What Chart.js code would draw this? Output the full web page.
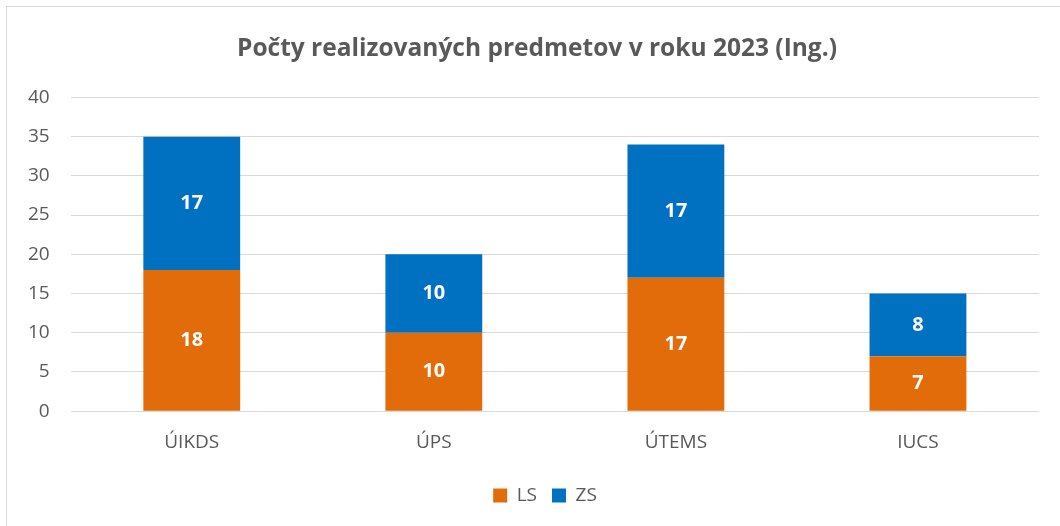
<!DOCTYPE html>
<html>
<head>
<meta charset="utf-8">
<script src="https://cdn.jsdelivr.net/npm/chart.js@4/dist/chart.umd.min.js"></script>
<style>
  body { margin: 0; background: #fff; overflow: hidden; }
  #box {
    position: absolute; left: 6px; top: 6px;
    width: 1062px; height: 540px;
    border: 1px solid #d9d9d9; box-sizing: border-box;
  }
  canvas { display: block; }
</style>
</head>
<body>
<div id="box"><canvas id="chart"></canvas></div>
<script>
const categories = ['ÚIKDS', 'ÚPS', 'ÚTEMS', 'IUCS'];
const lsValues = [18, 10, 17, 7];
const zsValues = [17, 10, 17, 8];
const seriesNames = ['LS', 'ZS'];
const titleText = 'Počty realizovaných predmetov v roku 2023 (Ing.)';

const FONT = "'Open Sans', sans-serif";
const GREY = '#595959';

// white numbers in the middle of each segment
const segmentLabels = {
    id: 'segmentLabels',
    afterDatasetsDraw(chart) {
        const ctx = chart.ctx;
        ctx.save();
        ctx.fillStyle = '#ffffff';
        ctx.font = 'bold 20px ' + FONT;
        ctx.textAlign = 'center';
        ctx.textBaseline = 'middle';
        chart.data.datasets.forEach((ds, i) => {
            chart.getDatasetMeta(i).data.forEach((bar, j) => {
                ctx.fillText(ds.data[j], bar.x, (bar.y + bar.base) / 2);
            });
        });
        ctx.restore();
    }
};

// title and legend are centred on the whole frame, not on the plot
const centreBlocks = {
    id: 'centreBlocks',
    afterLayout(chart) {
        chart.titleBlock.right = chart.width;
        chart.legend.left += 16;
        chart.legend.right = chart.width;
    }
};

new Chart(document.getElementById('chart'), {
    type: 'bar',
    data: {
        labels: categories,
        datasets: [
            { label: seriesNames[0], data: lsValues, backgroundColor: '#e36c0a' },
            { label: seriesNames[1], data: zsValues, backgroundColor: '#0070c0' }
        ]
    },
    options: {
        responsive: true,
        maintainAspectRatio: false,
        animation: false,
        layout: { padding: { left: 0, right: 28, top: 16, bottom: 30 } },
        datasets: { bar: { barPercentage: 0.4, categoryPercentage: 1 } },
        scales: {
            x: {
                stacked: true,
                grid: { display: false },
                border: { display: false },
                ticks: { color: GREY, font: { family: FONT, size: 19 }, padding: 12 },
                afterFit(scale) { scale.height += 5; }
            },
            y: {
                stacked: true,
                min: 0,
                max: 40,
                ticks: { stepSize: 5, color: GREY, font: { family: FONT, size: 19 }, padding: 21 },
                grid: { color: '#d9d9d9', lineWidth: 1, drawTicks: false },
                border: { display: false }
            }
        },
        plugins: {
            title: {
                display: true,
                text: titleText,
                color: GREY,
                font: { family: FONT, size: 24.5, weight: 'bold' },
                padding: { top: 11, bottom: 34 }
            },
            legend: {
                position: 'bottom',
                labels: {
                    color: GREY,
                    font: { family: FONT, size: 19 },
                    boxWidth: 14,
                    boxHeight: 14,
                    padding: 15
                }
            },
            tooltip: { enabled: false }
        }
    },
    plugins: [segmentLabels, centreBlocks]
});
</script>
</body>
</html>
